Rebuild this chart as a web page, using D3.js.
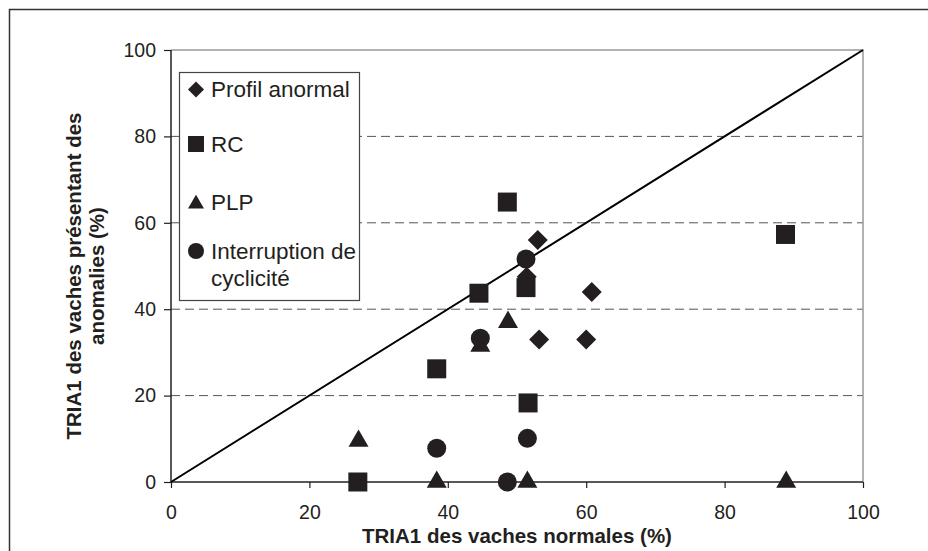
<!DOCTYPE html>
<html><head><meta charset="utf-8">
<script src="https://cdn.jsdelivr.net/npm/d3@7"></script>
<style>
html,body{margin:0;padding:0;background:#fff;}
svg{display:block;font-family:"Liberation Sans",Arial,Helvetica,sans-serif;}
</style></head>
<body>
<svg id="chart" width="928" height="551"></svg>
<script>
// ---- data ----
const xTicks = [0, 20, 40, 60, 80, 100];
const yTicks = [0, 20, 40, 60, 80, 100];
const gridValues = [20, 40, 60, 80];
const seriesNames = ["Profil anormal", "RC", "PLP", "Interruption de cyclicité"];
const profilX = [53.0, 51.4, 60.8, 53.2, 60.0];
const profilY = [56.0, 47.5, 44.0, 33.0, 33.0];
const rcX = [48.6, 44.5, 51.3, 38.4, 51.6, 27.0, 88.8];
const rcY = [64.8, 43.7, 45.0, 26.2, 18.3, 0, 57.3];
const plpX = [48.7, 44.7, 27.1, 38.4, 51.5, 88.9];
const plpY = [37.0, 31.5, 9.5, 0, 0, 0];
const cycX = [51.3, 44.7, 38.4, 51.5, 48.6];
const cycY = [51.6, 33.3, 7.8, 10.1, 0];
const xTitle = "TRIA1 des vaches normales (%)";
const yTitle = ["TRIA1 des vaches présentant des", "anomalies (%)"];

// ---- layout ----
const W = 928, H = 551;
const L = 171, R = 863, T = 50, B = 482;
const ink = "#231f20";
const svg = d3.select("#chart");

const x = d3.scaleLinear().domain([0, 100]).range([L, R]);
const y = d3.scaleLinear().domain([0, 100]).range([B, T]);

// outer frame (right and bottom edges fall outside the picture)
svg.append("path").attr("d", `M${W + 5},9.5H9.5V${H + 5}`)
  .attr("fill", "none").attr("stroke", "#333").attr("stroke-width", 1.5);

// gridlines
svg.append("g").selectAll("line").data(gridValues).join("line")
  .attr("x1", L).attr("x2", R).attr("y1", d => y(d)).attr("y2", d => y(d))
  .attr("stroke", "#555").attr("stroke-width", 1).attr("stroke-dasharray", "9,5");

// top & right plot border
svg.append("path").attr("d", `M${L},${y(100)}H${R}V${B}`)
  .attr("fill", "none").attr("stroke", "#999").attr("stroke-width", 1.5);

// axes
const xAxis = d3.axisBottom(x).tickValues(xTicks).tickSize(6).tickPadding(17).tickFormat(d3.format("d"));
const yAxis = d3.axisLeft(y).tickValues(yTicks).tickSize(7).tickPadding(8).tickFormat(d3.format("d"));
const gx = svg.append("g").attr("transform", `translate(0,${B})`).call(xAxis);
const gy = svg.append("g").attr("transform", `translate(${L},0)`).call(yAxis);
[gx, gy].forEach(g => {
  g.select(".domain").attr("stroke", ink).attr("stroke-width", 1.5);
  g.selectAll(".tick line").attr("stroke", ink).attr("stroke-width", 1.2);
  g.selectAll(".tick text").attr("fill", ink).style("font-size", "19.5px")
    .style("font-family", '"Liberation Sans",Arial,sans-serif');
});
gx.select(".domain").attr("d", `M${L},0H${R}`);
gy.select(".domain").attr("d", `M0,${B}V${T}`);

// diagonal
svg.append("line").attr("x1", x(0)).attr("y1", y(0)).attr("x2", x(100)).attr("y2", y(100))
  .attr("stroke", "#000").attr("stroke-width", 2);

// symbols
const sym = {
  diamond: s => d3.symbol(d3.symbolSquare, s * s / 2)(),
  square: s => d3.symbol(d3.symbolSquare, s * s)(),
  triangle: s => d3.symbol(d3.symbolTriangle, Math.sqrt(3) / 4 * s * s)(),
  circle: s => d3.symbol(d3.symbolCircle, Math.PI * s * s / 4)()
};
const rot = {diamond: 45, square: 0, triangle: 0, circle: 0};
const series = [
  {name: seriesNames[0], type: "diamond", xs: profilX, ys: profilY, size: 20},
  {name: seriesNames[1], type: "square", xs: rcX, ys: rcY, size: 19},
  {name: seriesNames[2], type: "triangle", xs: plpX, ys: plpY, size: 20},
  {name: seriesNames[3], type: "circle", xs: cycX, ys: cycY, size: 19}
];
series.forEach(s => {
  const pts = s.xs.map((v, i) => [v, s.ys[i]]);
  svg.append("g").selectAll("path").data(pts).join("path")
    .attr("d", sym[s.type](s.size))
    .attr("transform", d => `translate(${x(d[0])},${y(d[1])}) rotate(${rot[s.type]})`)
    .attr("fill", ink);
});

// legend
const lg = svg.append("g");
lg.append("rect").attr("x", 179.5).attr("y", 72.5).attr("width", 180).attr("height", 228)
  .attr("fill", "#fff").attr("stroke", "#444").attr("stroke-width", 1.2);
const legRows = [
  {cy: 89.5, lines: [seriesNames[0]], base: 97},
  {cy: 144, lines: [seriesNames[1]], base: 152},
  {cy: 204, lines: [seriesNames[2]], base: 210},
  {cy: 251, lines: ["Interruption de", "cyclicité"], base: 259}
];
series.forEach((s, i) => {
  const r = legRows[i];
  lg.append("path").attr("d", sym[s.type](16))
    .attr("transform", `translate(196,${r.cy}) rotate(${rot[s.type]})`).attr("fill", ink);
  const t = lg.append("text").attr("x", 211).attr("y", r.base).attr("fill", ink)
    .style("font-size", "22.5px");
  r.lines.forEach((ln, j) => t.append("tspan").attr("x", 211).attr("dy", j === 0 ? 0 : 27).text(ln));
});

// axis titles
svg.append("text").attr("x", (L + R) / 2).attr("y", 543).attr("text-anchor", "middle")
  .attr("fill", ink).style("font-size", "20.5px").style("font-weight", "bold").text(xTitle);
const yt = svg.append("text").attr("transform", "translate(81,276) rotate(-90)")
  .attr("text-anchor", "middle").attr("fill", ink)
  .style("font-size", "20.5px").style("font-weight", "bold");
yTitle.forEach((ln, j) => yt.append("tspan").attr("x", 0).attr("dy", j === 0 ? 0 : 23).text(ln));
</script>
</body></html>
